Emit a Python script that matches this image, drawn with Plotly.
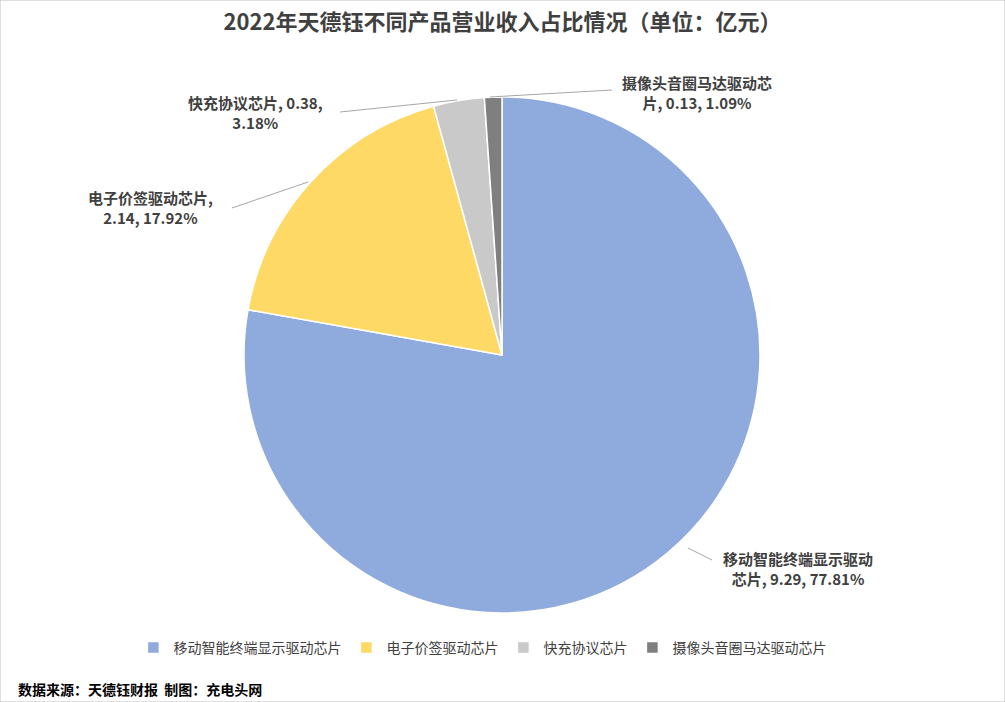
import plotly.graph_objects as go

categories = ["移动智能终端显示驱动芯片", "电子价签驱动芯片", "快充协议芯片", "摄像头音圈马达驱动芯片"]
values = [9.29, 2.14, 0.38, 0.13]
percents = ["77.81%", "17.92%", "3.18%", "1.09%"]
colors = ["#8FAADC", "#FFD966", "#C9C9C9", "#7F7F7F"]

W, H = 1005, 702
FONT = "Noto Sans CJK SC, Microsoft YaHei, sans-serif"

fig = go.Figure()
fig.add_trace(go.Pie(
    labels=categories, values=values, sort=False, direction="clockwise", rotation=0,
    marker=dict(colors=colors, line=dict(color="white", width=1.5)),
    textinfo="none", hoverinfo="label+value+percent",
    domain=dict(x=[244 / W, 760 / W], y=[1 - 613 / H, 1 - 97 / H]),
))

def px(x, y):
    return x / W, 1 - y / H

label_pos = [
    (798, 568, "移动智能终端显示驱动<br>芯片, %s, %s" % (values[0], percents[0])),
    (150, 207, "电子价签驱动芯片,<br>%s, %s" % (values[1], percents[1])),
    (255, 112, "快充协议芯片, %s,<br>%s" % (values[2], percents[2])),
    (697, 92, "摄像头音圈马达驱动芯<br>片, %s, %s" % (values[3], percents[3])),
]
annotations = []
for x, y, t in label_pos:
    ax, ay = px(x, y)
    annotations.append(dict(x=ax, y=ay, xref="paper", yref="paper", xanchor="center", yanchor="middle",
                            text="<b>" + t + "</b>", showarrow=False,
                            font=dict(size=15, color="#404040", family=FONT), align="center"))

lines = [((688, 548), (712, 560)), ((308, 182), (232, 208)), ((457, 100), (340, 112)), ((490, 97), (612, 90))]
shapes = [dict(type="rect", xref="paper", yref="paper", x0=0, y0=0, x1=1, y1=1,
               line=dict(color="#BFBFBF", width=1))]
for (x0, y0), (x1, y1) in lines:
    a0, b0 = px(x0, y0)
    a1, b1 = px(x1, y1)
    shapes.append(dict(type="line", xref="paper", yref="paper", x0=a0, y0=b0, x1=a1, y1=b1,
                       line=dict(color="#A6A6A6", width=1)))

annotations.append(dict(x=16 / W, y=1 - 689 / H, xref="paper", yref="paper", xanchor="left", yanchor="middle",
                        text="<b>数据来源：天德钰财报  制图：充电头网</b>", showarrow=False,
                        font=dict(size=14, color="black", family=FONT)))

fig.update_layout(
    width=W, height=H, margin=dict(l=0, r=0, t=0, b=0),
    paper_bgcolor="white", plot_bgcolor="white",
    title=dict(text="<b>2022年天德钰不同产品营业收入占比情况（单位：亿元）</b>", x=0.5, y=1 - 22 / H,
               xanchor="center", yanchor="middle", font=dict(size=22, color="#404040", family=FONT)),
    legend=dict(orientation="h", x=0.48, xanchor="center", y=1 - 648 / H, yanchor="middle",
                font=dict(size=14, color="#404040", family=FONT)),
    annotations=annotations, shapes=shapes,
)
fig.write_html("out.html", config={"displayModeBar": False},
               post_script="document.body.style.margin='0';document.body.style.overflow='hidden';")
